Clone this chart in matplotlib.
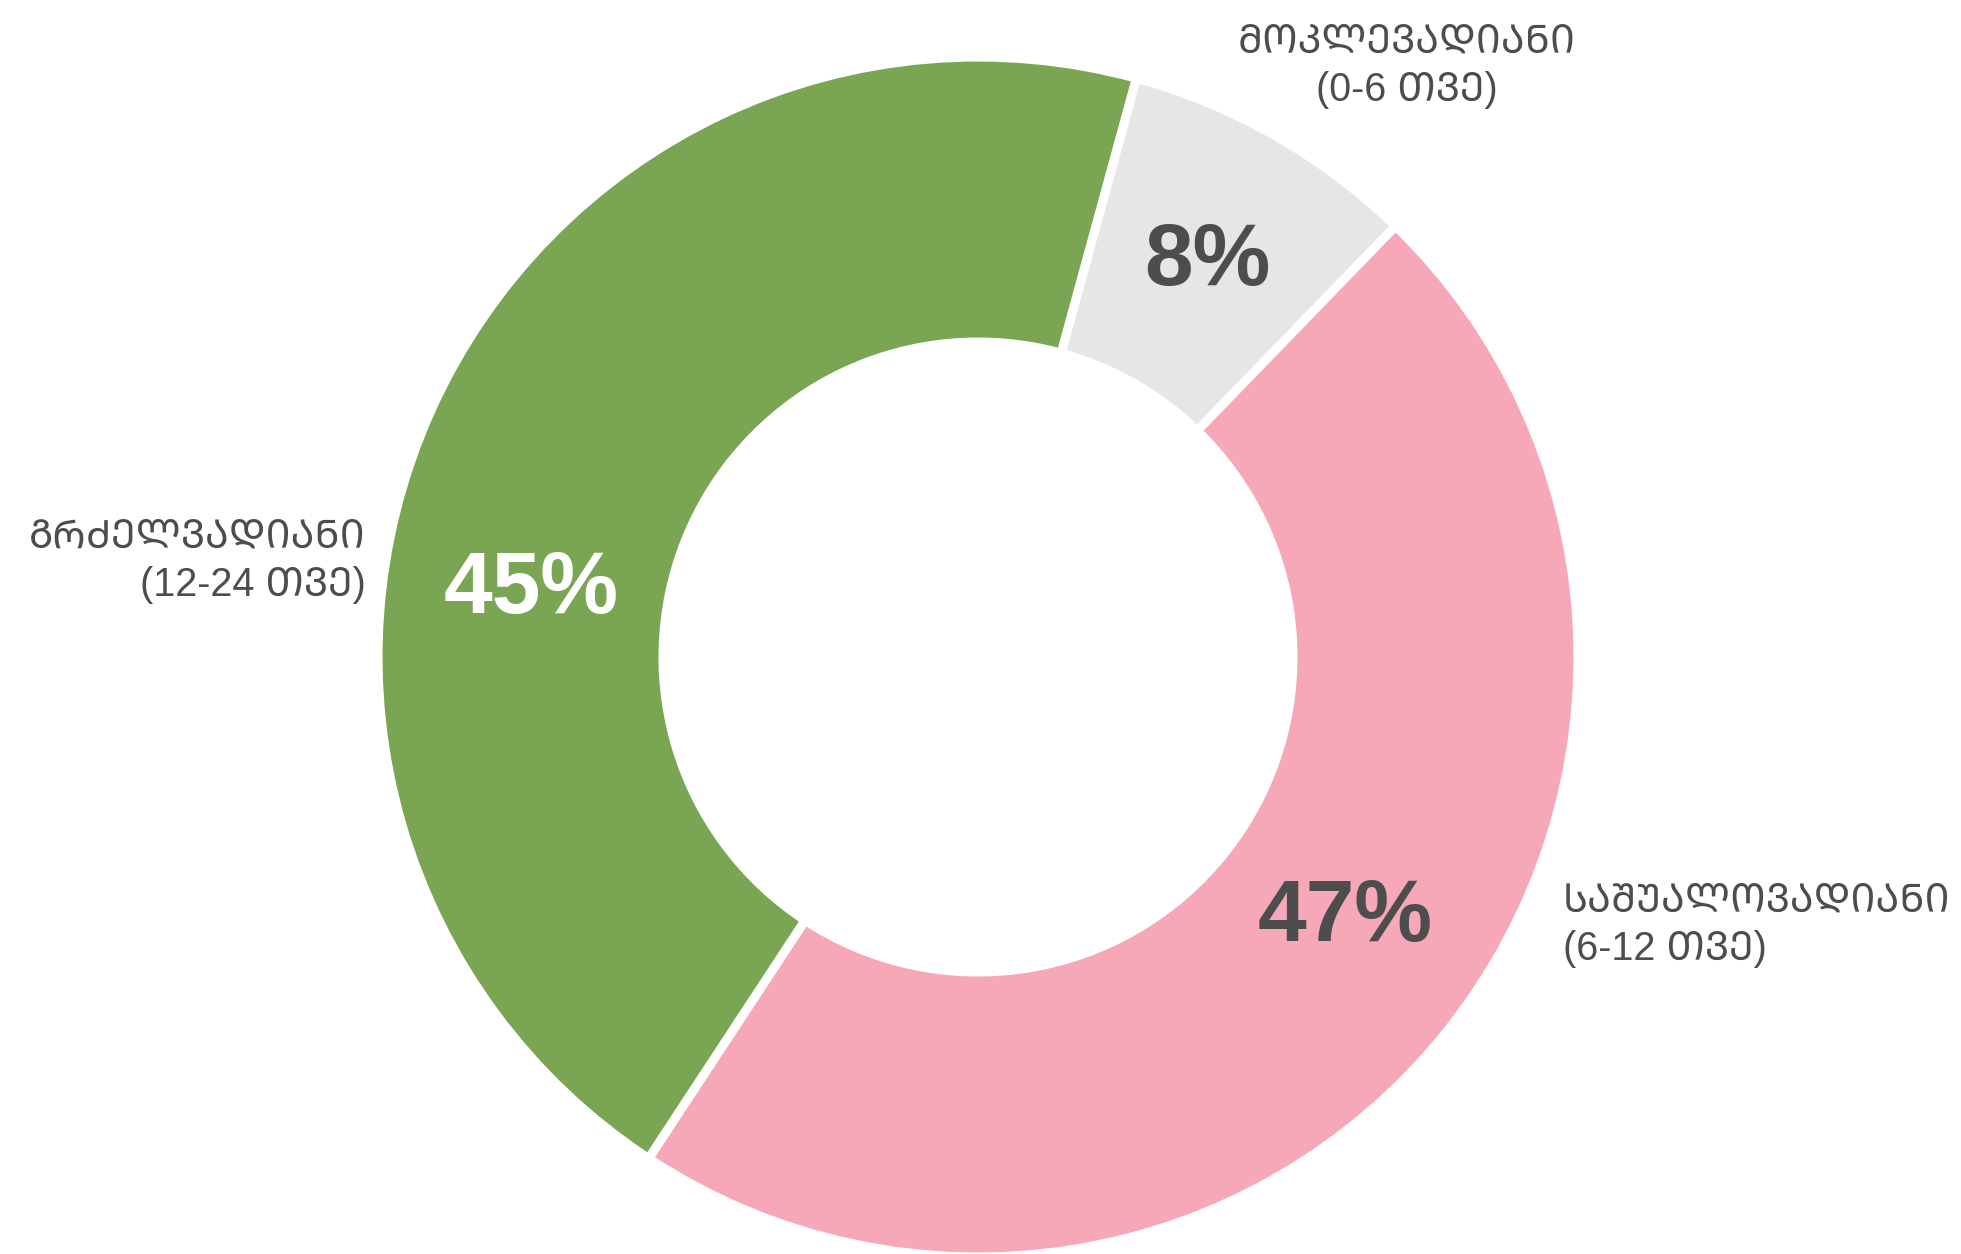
import matplotlib
matplotlib.use("Agg")
import numpy as np
import matplotlib.pyplot as plt

# data
categories = ["ᲛᲝᲙᲚᲔᲕᲐᲓᲘᲐᲜᲘ\n(0-6 ᲗᲕᲔ)",
              "ᲡᲐᲨᲣᲐᲚᲝᲕᲐᲓᲘᲐᲜᲘ\n(6-12 ᲗᲕᲔ)",
              "ᲒᲠᲫᲔᲚᲕᲐᲓᲘᲐᲜᲘ\n(12-24 ᲗᲕᲔ)"]
shares = [8, 47, 45]
colors = ["#E6E6E6", "#F6A8B9", "#7AA552"]
pct_colors = ["#4D4D4D", "#4D4D4D", "#FFFFFF"]

label_font = ["Liberation Sans", "Noto Sans Georgian", "DejaVu Sans"]
text_col = "#4D4D4D"

W, H = 1961, 1254
cx, cy, R = 978, 657, 600   # pixel center / outer radius

fig = plt.figure(figsize=(W / 100, H / 100), dpi=100)
ax = fig.add_axes([0, 0, 1, 1])

start = 90 - 15.3
wedges, _ = ax.pie(shares, colors=colors, startangle=start, counterclock=False,
                   radius=1, wedgeprops=dict(width=0.475, edgecolor="white", linewidth=6.5))

# pie resets limits, so set them afterwards
ax.set_xlim(-cx / R, (W - cx) / R)
ax.set_ylim(-(H - cy) / R, cy / R)
ax.set_aspect("auto")
ax.axis("off")

# percentage labels (angle offset from wedge middle, radius)
pct_pos = [(0, 0.77), (4, 0.745), (15, 0.755)]
for w, v, c, (off, r) in zip(wedges, shares, pct_colors, pct_pos):
    mid = np.deg2rad((w.theta1 + w.theta2) / 2 + off)
    ax.text(r * np.cos(mid), r * np.sin(mid) - 0.012, "%d%%" % v, ha="center", va="center",
            fontsize=63, fontweight="bold", color=c, family="Liberation Sans")

# category labels
ax.text(0.715, 0.985, categories[0], ha="center", va="center", fontsize=28.5,
        color=text_col, family=label_font, linespacing=1.36)
ax.text(0.975, -0.446, categories[1], ha="left", va="center", fontsize=28.5,
        color=text_col, family=label_font, linespacing=1.36)
ax.text(-1.02, 0.16, categories[2], ha="right", va="center", fontsize=28.5,
        color=text_col, family=label_font, linespacing=1.36, multialignment="right")

fig.savefig("out.png", dpi=100)
